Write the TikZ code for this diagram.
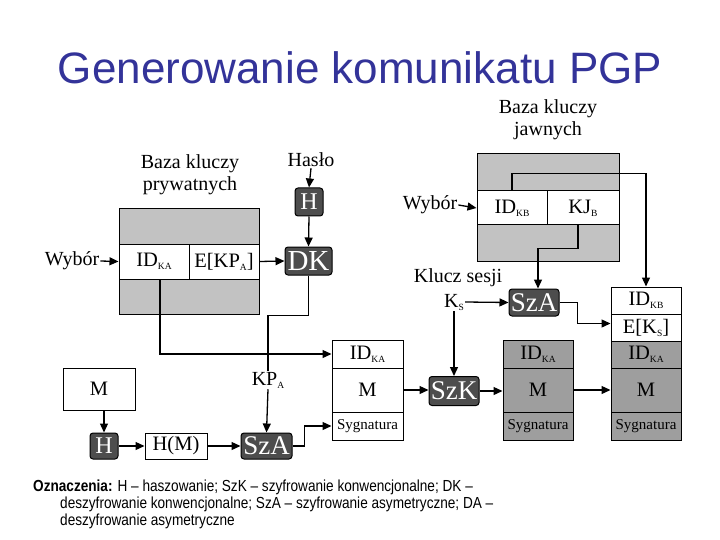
\documentclass[tikz,border=0pt]{standalone}
\usepackage{fontspec}
\setmainfont{Liberation Serif}
\newfontfamily\sansf[FakeStretch=0.85]{Liberation Sans}
\newfontfamily\titlef{Liberation Sans}
\usetikzlibrary{arrows.meta}
\definecolor{titleblue}{HTML}{333399}
\definecolor{dbgray}{HTML}{C2C2C2}
\definecolor{stackgray}{HTML}{9E9E9E}
\definecolor{darkbox}{HTML}{4D4D4D}
\newcommand\sbs[1]{\raisebox{-3pt}{\fontsize{9.5}{9.5}\selectfont #1}}
\tikzset{
  cell/.style={draw, line width=1pt, fill=white, inner sep=0pt, font=\fontsize{20.5}{20.5}\selectfont},
  gcell/.style={cell, fill=stackgray},
  sygn/.style={font=\fontsize{15}{15}\selectfont},
  db/.style={draw, line width=1pt, fill=dbgray, inner sep=0pt},
  dark/.style={draw=black, line width=1pt, fill=darkbox, rounded corners=3pt, text=white, inner sep=0pt, font=\fontsize{27}{27}\selectfont},
  lbl/.style={inner sep=1pt, font=\fontsize{20}{22}\selectfont, align=center},
  arr/.style={-{Triangle[length=9pt,width=8pt]}, line width=1.3pt},
  ln/.style={line width=1.3pt},
  leg/.style={anchor=west, inner sep=0pt, font=\sansf\fontsize{16}{16}\selectfont}
}
\begin{document}
\begin{tikzpicture}[x=1pt,y=-1pt]
\useasboundingbox (0,0) rectangle (720,540);
% title
\node[font=\titlef\fontsize{44}{44}\selectfont, text=titleblue] (title) at (360,68) {Generowanie komunikatu PGP};
% private key base
\node[db, minimum width=140, minimum height=105] (privdb) at (189,261.5) {};
\node[cell, minimum width=70, minimum height=35] (idka1) at (154,261.5) {ID\sbs{KA}};
\node[cell, minimum width=70, minimum height=35] (ekpa) at (224,261.5) {E[KP\sbs{A}]};
\node[lbl] (lblprv) at (190,175) {Baza kluczy\\prywatnych};
\node[lbl] (wybor1) at (72,261) {Wybór};
\node[lbl] (haslo) at (311,160) {Hasło};
\node[dark, minimum width=28, minimum height=28, font=\fontsize{24}{24}\selectfont] (h1) at (309,202) {H};
\node[dark, minimum width=47, minimum height=28, font=\fontsize{29}{29}\selectfont] (dk) at (308.5,261) {DK};
% public key base
\node[db, minimum width=142, minimum height=107] (pubdb) at (548,207.5) {};
\node[cell, minimum width=70, minimum height=34] (idkb) at (512,208) {ID\sbs{KB}};
\node[cell, minimum width=72, minimum height=34] (kjb) at (583,208) {KJ\sbs{B}};
\node[lbl] (lblpub) at (548,120) {Baza kluczy\\jawnych};
\node[lbl] (wybor2) at (430,205) {Wybór};
% session key
\node[lbl] (klucz) at (458,278) {Klucz sesji};
\node[lbl] (ks) at (454,302) {K\sbs{S}};
\node[dark, minimum width=50, minimum height=27] (sza1) at (534,302.5) {SzA};
% right stack
\node[cell, minimum width=70, minimum height=27] (r1) at (646,300.5) {ID\sbs{KB}};
\node[cell, minimum width=70, minimum height=27] (r2) at (646,327.5) {E[K\sbs{S}]};
\node[gcell, minimum width=70, minimum height=27] (r3) at (646,354.5) {ID\sbs{KA}};
\node[gcell, minimum width=70, minimum height=44] (r4) at (646,390) {M};
\node[gcell, sygn, minimum width=70, minimum height=28] (r5) at (646,426) {Sygnatura};
% middle gray stack
\node[gcell, minimum width=70, minimum height=28] (g1) at (538,354) {ID\sbs{KA}};
\node[gcell, minimum width=70, minimum height=44] (g2) at (538,390) {M};
\node[gcell, sygn, minimum width=70, minimum height=28] (g3) at (538,426) {Sygnatura};
% white stack
\node[cell, minimum width=71, minimum height=28] (w1) at (367.5,354) {ID\sbs{KA}};
\node[cell, minimum width=71, minimum height=44] (w2) at (367.5,390) {M};
\node[cell, sygn, minimum width=71, minimum height=28] (w3) at (367.5,426) {Sygnatura};
\node[dark, minimum width=50, minimum height=29] (szk) at (454,391) {SzK};
% lower left
\node[lbl] (kpa) at (268,380) {KP\sbs{A}};
\node[cell, minimum width=72, minimum height=42] (m) at (99,389) {M};
\node[dark, minimum width=28, minimum height=26, font=\fontsize{24}{24}\selectfont] (h2) at (104,446) {H};
\node[cell, minimum width=62, minimum height=26] (hm) at (176,446) {H(M)};
\node[dark, minimum width=51, minimum height=26] (sza2) at (266.5,446) {SzA};
% connectors
\draw[arr] (haslo.south) -- (h1.north);
\draw[arr] (h1.south) -- (dk.north);
\draw[arr] (ekpa.east) -- (dk.west);
\draw[arr] (wybor1.east) -- (idka1.west);
\draw[arr] ([xshift=6pt]idka1.south) |- (w1.west);
\draw[ln] (dk.south) -- ++(0,40) -| (kpa.north);
\draw[arr] (kpa.south) -- (sza2.north);
\draw[arr] (h2.north |- m.south) -- (h2.north);
\draw[arr] (h2.east) -- (hm.west);
\draw[arr] (hm.east) -- (sza2.west);
\draw[arr] (sza2.east) -- ++(12,0) |- (w3.west);
\draw[arr] (w2.east) -- (szk.west |- w2.east);
\draw[arr] (szk.east) -- (g2.west |- szk.east);
\draw[arr] (g2.east) -- (r4.west);
\draw[arr] (ks.east) -- (sza1.west);
\draw[arr] (ks.south) -- (szk.north);
\draw[arr] (sza1.east) -- ++(18,0) |- ([yshift=4pt]r2.west);
\draw[arr] (idkb.north) -- ++(0,-17) -| (r1.north);
\draw[arr] ([xshift=-5pt]kjb.south) -- ++(0,23) -| ([xshift=4pt]sza1.north);
\draw[arr] (wybor2.east) -- (idkb.west);
% legend
\node[leg] (leg1) at (33,487) {\textbf{Oznaczenia:} H – haszowanie; SzK – szyfrowanie konwencjonalne; DK –};
\node[leg] (leg2) at (60,504) {deszyfrowanie konwencjonalne; SzA – szyfrowanie asymetryczne; DA –};
\node[leg] (leg3) at (60,521) {deszyfrowanie asymetryczne};
\end{tikzpicture}
\end{document}
